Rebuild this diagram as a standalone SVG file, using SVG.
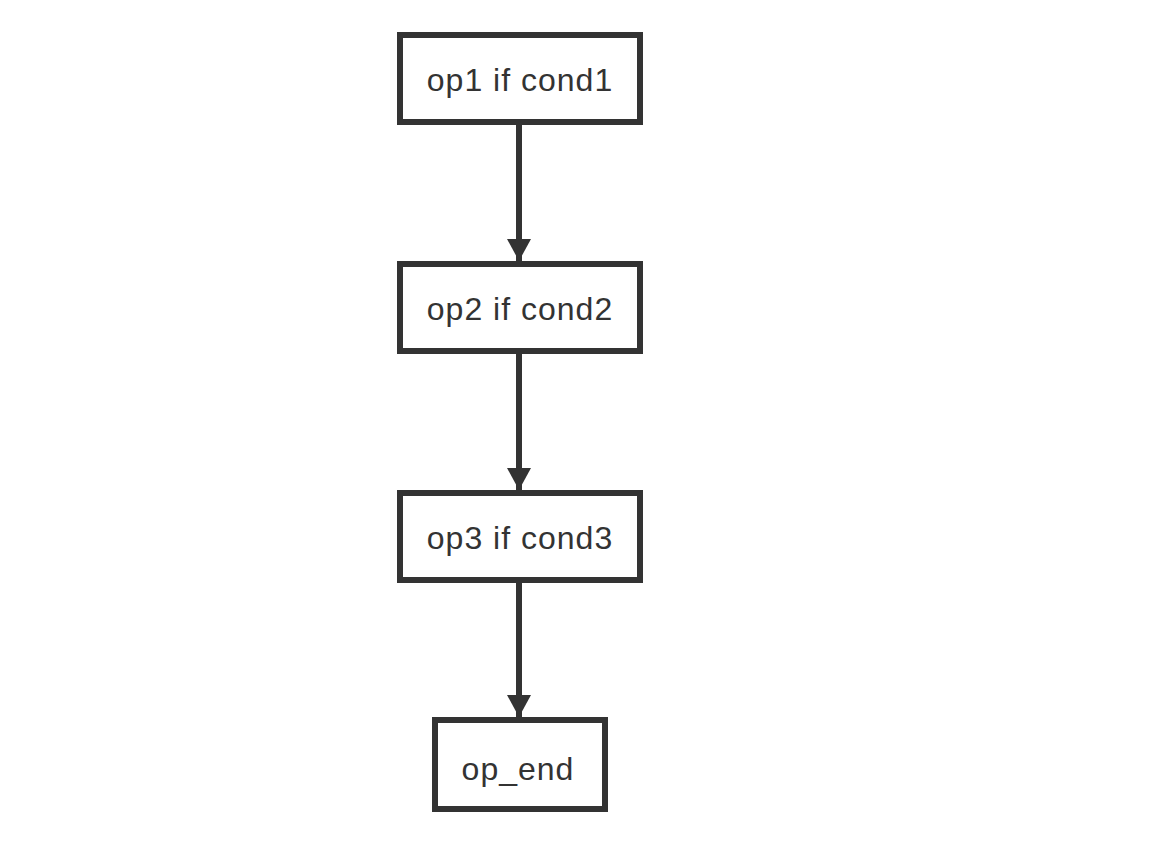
<svg xmlns="http://www.w3.org/2000/svg" width="1166" height="856" viewBox="0 0 1166 856">
<style>
.box{fill:#fff;stroke:#333;stroke-width:6}
.lbl{font-family:"Liberation Sans",Arial,sans-serif;font-size:32px;fill:#333;text-anchor:middle;letter-spacing:1px}
.edge{stroke:#333;stroke-width:6;fill:none}
</style>
<defs>
<marker id="arr" markerUnits="userSpaceOnUse" markerWidth="24" markerHeight="24" refX="22" refY="12" orient="auto">
<path d="M0,0 L22,12 L0,24 Z" fill="#333"/>
</marker>
</defs>
<rect width="1166" height="856" fill="#fff"/>
<g id="connectors">
<line class="edge" x1="519" y1="125" x2="519" y2="261" marker-end="url(#arr)"/>
<line class="edge" x1="519" y1="354" x2="519" y2="490" marker-end="url(#arr)"/>
<line class="edge" x1="519" y1="583" x2="519" y2="717" marker-end="url(#arr)"/>
</g>
<g id="n1"><rect class="box" x="400" y="35" width="240" height="87"/><text class="lbl" x="520" y="91">op1 if cond1</text></g>
<g id="n2"><rect class="box" x="400" y="264" width="240" height="87"/><text class="lbl" x="520" y="320">op2 if cond2</text></g>
<g id="n3"><rect class="box" x="400" y="493" width="240" height="87"/><text class="lbl" x="520" y="549">op3 if cond3</text></g>
<g id="n4"><rect class="box" x="435" y="720" width="170" height="89"/><text class="lbl" x="518" y="780">op_end</text></g>
</svg>
